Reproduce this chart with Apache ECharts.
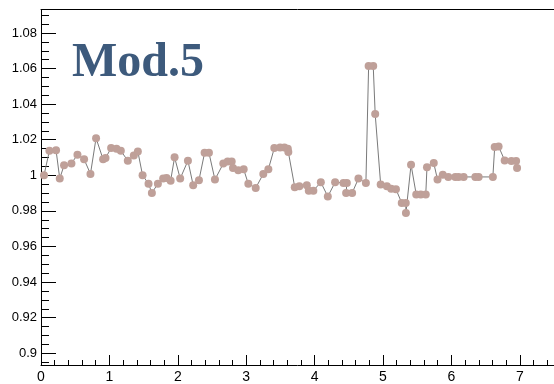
<!DOCTYPE html>
<html>
<head>
<meta charset="utf-8">
<script src="https://cdn.jsdelivr.net/npm/echarts@6/dist/echarts.min.js"></script>
<style>
  html, body { margin: 0; padding: 0; background: #fff; }
  #chart { width: 554px; height: 384px; }
</style>
</head>
<body>
<div id="chart"></div>
<script>
// Measured points along the module scan
const xValues = [
  0.044, 0.123, 0.220, 0.274, 0.337, 0.445, 0.533, 0.630, 0.723, 0.805,
  0.908, 0.943, 1.025, 1.104, 1.167, 1.269, 1.357, 1.416, 1.485, 1.572,
  1.621, 1.709, 1.786, 1.836, 1.895, 1.953, 2.035, 2.148, 2.225, 2.309,
  2.392, 2.455, 2.543, 2.665, 2.729, 2.788, 2.807, 2.884, 2.963, 3.031,
  3.139, 3.250, 3.324, 3.411, 3.495, 3.558, 3.608, 3.616, 3.710, 3.777,
  3.886, 3.915, 3.982, 4.091, 4.193, 4.300, 4.422, 4.471, 4.461, 4.549,
  4.641, 4.750, 4.790, 4.857, 4.886, 4.966, 5.057, 5.120, 5.189, 5.274,
  5.333, 5.335, 5.410, 5.486, 5.552, 5.625, 5.643, 5.742, 5.797, 5.874,
  5.955, 6.057, 6.105, 6.179, 6.350, 6.398, 6.606, 6.633, 6.690, 6.779,
  6.877, 6.946, 6.960
];
const yValues = [
  1.0000, 1.0138, 1.0141, 0.9982, 1.0056, 1.0067, 1.0116, 1.0090, 1.0008, 1.0209,
  1.0090, 1.0097, 1.0153, 1.0150, 1.0138, 1.0082, 1.0112, 1.0134, 1.0000, 0.9953,
  0.9901, 0.9953, 0.9982, 0.9985, 0.9970, 1.0101, 0.9982, 1.0082, 0.9944, 0.9972,
  1.0127, 1.0127, 0.9976, 1.0066, 1.0078, 1.0078, 1.0041, 1.0028, 1.0034, 0.9952,
  0.9929, 1.0008, 1.0034, 1.0153, 1.0157, 1.0157, 1.0150, 1.0131, 0.9933, 0.9938,
  0.9944, 0.9914, 0.9914, 0.9961, 0.9881, 0.9961, 0.9957, 0.9957, 0.9901, 0.9901,
  0.9982, 0.9957, 1.0615, 1.0615, 1.0344, 0.9948, 0.9938, 0.9924, 0.9922, 0.9845,
  0.9845, 0.9788, 1.0060, 0.9892, 0.9892, 0.9892, 1.0045, 1.0069, 0.9976, 1.0003,
  0.9991, 0.9991, 0.9991, 0.9991, 0.9991, 0.9991, 0.9991, 1.0159, 1.0162, 1.0084,
  1.0081, 1.0081, 1.0041
];

// Axis ranges and tick positions
const xRange = [0, 7.5];
const yRange = [0.8934, 1.0932];
const xMajorTicks = [0, 1, 2, 3, 4, 5, 6, 7];
const yMajorTicks = [0.90, 0.92, 0.94, 0.96, 0.98, 1.00, 1.02, 1.04, 1.06, 1.08];
const titleText = 'Mod.5';

function minorBetween(lo, hi, step, majors) {
  const out = [];
  for (let v = lo; v <= hi + 1e-9; v += step) {
    const r = Math.round(v * 1000) / 1000;
    if (!majors.some(m => Math.abs(m - r) < 1e-6)) out.push(r);
  }
  return out;
}
const xMinorTicks = minorBetween(0, 7.5, 0.2, xMajorTicks);
const yMinorTicks = minorBetween(0.895, 1.09, 0.005, yMajorTicks);

const points = xValues.map((x, i) => [x, yValues[i]]);

function yLabel(v) {
  return String(parseFloat(v.toFixed(3)));
}

const chart = echarts.init(document.getElementById('chart'), null, { renderer: 'canvas' });
const font = 'Liberation Sans, Arial, Helvetica, sans-serif';

chart.setOption({
  animation: false,
  backgroundColor: '#ffffff',
  grid: { left: 41, right: 0, top: 9.5, bottom: 18, containLabel: false },
  xAxis: [
    {
      type: 'value', min: xRange[0], max: xRange[1], position: 'bottom',
      axisLine: { show: true, onZero: false, lineStyle: { color: '#000', width: 1 } },
      axisTick: { show: true, inside: true, length: 10, customValues: xMajorTicks, lineStyle: { color: '#000' } },
      axisLabel: { show: true, customValues: xMajorTicks, margin: 5, color: '#000', fontSize: 14, fontFamily: font, formatter: v => String(v) },
      splitLine: { show: false }
    },
    {
      type: 'value', min: xRange[0], max: xRange[1], position: 'bottom',
      axisLine: { show: false },
      axisTick: { show: true, inside: true, length: 5, customValues: xMinorTicks, lineStyle: { color: '#000' } },
      axisLabel: { show: false },
      splitLine: { show: false }
    },
    {
      type: 'value', min: xRange[0], max: xRange[1], position: 'top',
      axisLine: { show: true, onZero: false, lineStyle: { color: '#000', width: 1 } },
      axisTick: { show: false }, axisLabel: { show: false }, splitLine: { show: false }
    }
  ],
  yAxis: [
    {
      type: 'value', min: yRange[0], max: yRange[1], position: 'left',
      axisLine: { show: true, onZero: false, lineStyle: { color: '#000', width: 1 } },
      axisTick: { show: true, inside: true, length: 15, customValues: yMajorTicks, lineStyle: { color: '#000' } },
      axisLabel: { show: true, customValues: yMajorTicks, margin: 4, color: '#000', fontSize: 13, fontFamily: font, formatter: yLabel },
      splitLine: { show: false }
    },
    {
      type: 'value', min: yRange[0], max: yRange[1], position: 'left',
      axisLine: { show: false },
      axisTick: { show: true, inside: true, length: 8, customValues: yMinorTicks, lineStyle: { color: '#000' } },
      axisLabel: { show: false },
      splitLine: { show: false }
    }
  ],
  series: [
    {
      type: 'line',
      xAxisIndex: 0, yAxisIndex: 0,
      data: points,
      symbol: 'circle',
      symbolSize: 8,
      showAllSymbol: true,
      lineStyle: { color: '#7a7a7a', width: 1 },
      itemStyle: { color: '#bfa099', borderWidth: 0 },
      emphasis: { disabled: true }
    }
  ],
  graphic: [
    {
      type: 'text', left: 72, top: 40, z: 10,
      style: {
        text: titleText,
        fill: '#3d5a7c',
        font: 'bold 48px "Liberation Serif", "Times New Roman", serif'
      }
    }
  ]
});
</script>
</body>
</html>
